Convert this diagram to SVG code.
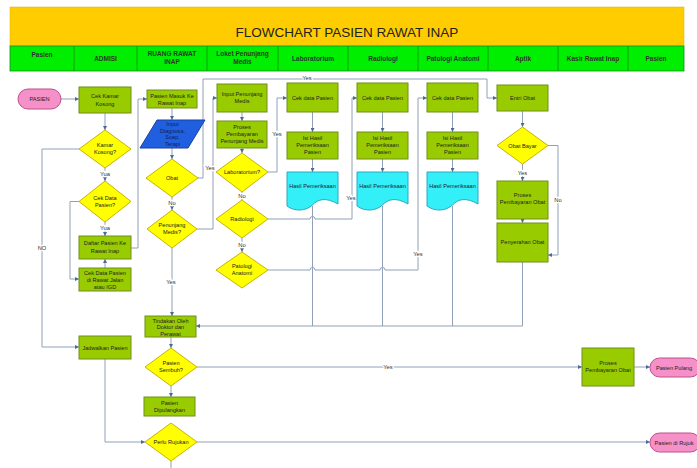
<svg xmlns="http://www.w3.org/2000/svg" width="697" height="468" viewBox="0 0 697 468">
<style>
text{font-family:"Liberation Sans",Arial,sans-serif;text-anchor:middle;}
.t{font-size:5.6px;fill:#222;}
.h{font-size:6.5px;font-weight:bold;fill:#2a3a2a;}
.lbl{font-size:5.8px;fill:#333;stroke:#fff;stroke-width:2.5px;paint-order:stroke;}
.box{fill:#99cc00;stroke:#6f8f1a;stroke-width:1;}
.dia{fill:#ffff00;stroke:#c8b400;stroke-width:1;}
.term{fill:#f590c8;stroke:#c0508a;stroke-width:1;}
.doc{fill:#33f0f8;stroke:#2aa8c0;stroke-width:1;}
.io{fill:#2060e0;stroke:#1840a0;stroke-width:1;}
.c{fill:none;stroke:#8fa0b8;stroke-width:1;}
.a{marker-end:url(#ah);}
</style>
<defs>
<marker id="ah" viewBox="0 0 6 6" refX="6" refY="3" markerWidth="4" markerHeight="4" orient="auto" markerUnits="userSpaceOnUse"><path d="M0,0 L6,3 L0,6 Z" fill="#4a6a9a"/></marker>
</defs>
<rect width="697" height="468" fill="#fff"/>
<g id="title">
<rect x="10" y="7" width="674" height="39" fill="#ffcc00" stroke="#e0b000" stroke-width="0.5"/>
<text x="347" y="37" style="font-size:13.5px;fill:#222;">FLOWCHART PASIEN RAWAT INAP</text>
</g>
<g id="lanes">
<rect x="10" y="46" width="674" height="25" fill="#00ee00" stroke="#1a8a1a" stroke-width="0.8"/>
<g stroke="#1a8a1a" stroke-width="0.8">
<line x1="74" y1="46" x2="74" y2="71"/><line x1="137" y1="46" x2="137" y2="71"/><line x1="207" y1="46" x2="207" y2="71"/><line x1="278" y1="46" x2="278" y2="71"/><line x1="348" y1="46" x2="348" y2="71"/><line x1="418" y1="46" x2="418" y2="71"/><line x1="488" y1="46" x2="488" y2="71"/><line x1="558" y1="46" x2="558" y2="71"/><line x1="628" y1="46" x2="628" y2="71"/>
</g>
<text class="h" x="42" y="57">Pasien</text>
<text class="h" x="105.5" y="61">ADMISI</text>
<text class="h" x="172" y="56">RUANG RAWAT</text><text class="h" x="172" y="64">INAP</text>
<text class="h" x="242.5" y="56">Loket Penunjang</text><text class="h" x="242.5" y="64">Medis</text>
<text class="h" x="313" y="61">Laboratorium</text>
<text class="h" x="383" y="61">Radiologi</text>
<text class="h" x="453" y="61">Patologi Anatomi</text>
<text class="h" x="523" y="61">Aptik</text>
<text class="h" x="593" y="61">Kasir Rawat Inap</text>
<text class="h" x="656" y="61">Pasien</text>
</g>
<g id="connectors">
<path class="c a" d="M61,99 H79"/>
<path class="c a" d="M105,113 V130"/>
<path class="c a" d="M105,168 V181"/>
<path class="c a" d="M105,222 V236"/>
<path class="c a" d="M79,201.5 H70 V279 H79"/>
<path class="c a" d="M105,268 V259"/>
<path class="c a" d="M79,149 H42 V347 H79"/>
<path class="c a" d="M131,248 H138 V99 H147"/>
<path class="c a" d="M172,108 V120"/>
<path class="c a" d="M172,148 V159"/>
<path class="c a" d="M172,197 V210"/>
<path class="c a" d="M198,178 H203 V79 H487 V98 H497"/>
<path class="c a" d="M197,229 H213 V98 H217"/>
<path class="c a" d="M172,248 V316"/>
<path class="c a" d="M242,112 V121"/>
<path class="c a" d="M242,148 V153"/>
<path class="c a" d="M242,192 V200"/>
<path class="c a" d="M242,238 V252"/>
<path class="c a" d="M268,172 H277 V98 H287"/>
<path class="c a" d="M268,219 H310 a2.5,2.5 0 0 1 5,0 H352 V98 H357"/>
<path class="c a" d="M268,270 H310 a2.5,2.5 0 0 1 5,0 H380 a2.5,2.5 0 0 1 5,0 H418 V98 H427"/>
<path class="c a" d="M312.5,112 V132"/><path class="c a" d="M312.5,159 V172"/>
<path class="c a" d="M382.5,112 V132"/><path class="c a" d="M382.5,159 V172"/>
<path class="c a" d="M452.5,112 V132"/><path class="c a" d="M452.5,159 V172"/>
<path class="c" d="M312.5,206 V326"/><path class="c" d="M382.5,206 V326"/><path class="c" d="M452.5,206 V326"/>
<path class="c a" d="M522.5,262 V326 H196"/>
<path class="c a" d="M522.5,111 V127"/>
<path class="c a" d="M522.5,164 V181"/>
<path class="c a" d="M522.5,219 V223"/>
<path class="c a" d="M548,145.5 H558 V255 H548"/>
<path class="c a" d="M171,337 V348"/>
<path class="c a" d="M197,367 H582"/>
<path class="c a" d="M634,367 H650"/>
<path class="c a" d="M171,386 V397"/>
<path class="c a" d="M105,359 V442 H145"/>
<path class="c a" d="M197,442 H650"/>
<path class="c" d="M171,461 V468"/>
<text class="lbl" x="105" y="176">Yua</text>
<text class="lbl" x="105" y="230">Yua</text>
<text class="lbl" x="42" y="250">NO</text>
<text class="lbl" x="172" y="205">No</text>
<text class="lbl" x="307" y="80">Yes</text>
<text class="lbl" x="210" y="170">Yes</text>
<text class="lbl" x="171" y="284">Yes</text>
<text class="lbl" x="242" y="198">No</text>
<text class="lbl" x="242" y="247">No</text>
<text class="lbl" x="277" y="136">Yes</text>
<text class="lbl" x="351" y="200">Yes</text>
<text class="lbl" x="418" y="256">Yes</text>
<text class="lbl" x="522.5" y="175">Yes</text>
<text class="lbl" x="558" y="202">No</text>
<text class="lbl" x="388" y="369">Yes</text>
</g>
<g id="n-pasien"><rect class="term" x="18" y="89" width="43" height="20" rx="10"/><text class="t" x="39.5" y="101">PASIEN</text></g>
<g id="n-cekkamar"><rect class="box" x="79" y="87" width="52" height="26"/><text class="t" x="105" y="98">Cek Kamar</text><text class="t" x="105" y="105.5">Kosong</text></g>
<g id="n-kamarkosong"><polygon class="dia" points="105,130 131,149 105,168 79,149"/><text class="t" x="105" y="147">Kamar</text><text class="t" x="105" y="154">Kosong?</text></g>
<g id="n-cekdata"><polygon class="dia" points="105,181 131,201.5 105,222 79,201.5"/><text class="t" x="105" y="199.5">Cek Data</text><text class="t" x="105" y="206.5">Pasien?</text></g>
<g id="n-daftar"><rect class="box" x="79" y="236" width="52" height="23"/><text class="t" x="105" y="245">Daftar Pasien Ke</text><text class="t" x="105" y="252.5">Rawat Inap</text></g>
<g id="n-cekrj"><rect class="box" x="79" y="268" width="52" height="23"/><text class="t" x="105" y="275">Cek Data Pasien</text><text class="t" x="105" y="282">di Rawat Jalan</text><text class="t" x="105" y="289">atau IGD</text></g>
<g id="n-jadwal"><rect class="box" x="79" y="336" width="52" height="23"/><text class="t" x="105" y="349.5">Jadwalkan Pasien</text></g>
<g id="n-masuk"><rect class="box" x="147" y="90" width="50" height="18"/><text class="t" x="172" y="97.5">Pasien Masuk Ke</text><text class="t" x="172" y="104.5">Rawat Inap</text></g>
<g id="n-input"><polygon class="io" points="157,120 205,120 188,148 140,148"/><text class="t" x="172.5" y="126" style="fill:#102050">Input</text><text class="t" x="172.5" y="132.5" style="fill:#102050">Diagnosa,</text><text class="t" x="172.5" y="139" style="fill:#102050">Soap,</text><text class="t" x="172.5" y="145.5" style="fill:#102050">Terapi</text></g>
<g id="n-obat"><polygon class="dia" points="172,159 198,178 172,197 146,178"/><text class="t" x="172" y="180">Obat</text></g>
<g id="n-penunjang"><polygon class="dia" points="172,210 197,229 172,248 147,229"/><text class="t" x="172" y="227">Penunjang</text><text class="t" x="172" y="234">Medis?</text></g>
<g id="n-tindakan"><rect class="box" x="145" y="316" width="51" height="21"/><text class="t" x="170.5" y="322.5">Tindakan Oleh</text><text class="t" x="170.5" y="329">Doktor dan</text><text class="t" x="170.5" y="335.5">Perawat</text></g>
<g id="n-sembuh"><polygon class="dia" points="171,348 197,367 171,386 145,367"/><text class="t" x="171" y="365">Pasien</text><text class="t" x="171" y="372">Sembuh?</text></g>
<g id="n-dipulangkan"><rect class="box" x="144" y="397" width="51" height="19"/><text class="t" x="169.5" y="405">Pasien</text><text class="t" x="169.5" y="412">Dipulangkan</text></g>
<g id="n-rujukan"><polygon class="dia" points="171,423 197,442 171,461 145,442"/><text class="t" x="171" y="444">Perlu Rujukan</text></g>
<g id="n-inputpm"><rect class="box" x="217" y="84" width="50" height="28"/><text class="t" x="242" y="96">Input Penunjang</text><text class="t" x="242" y="103">Medis</text></g>
<g id="n-bayarpm"><rect class="box" x="217" y="121" width="50" height="27"/><text class="t" x="242" y="128.5">Proses</text><text class="t" x="242" y="135.5">Pembayaran</text><text class="t" x="242" y="142.5">Penunjang Medis</text></g>
<g id="n-labq"><polygon class="dia" points="242,153 268,172 242,192 216,172"/><text class="t" x="242" y="174">Laboratorium?</text></g>
<g id="n-radq"><polygon class="dia" points="242,200 268,219 242,238 216,219"/><text class="t" x="242" y="221">Radiologi</text></g>
<g id="n-patq"><polygon class="dia" points="242,252 268,270 242,288 216,270"/><text class="t" x="242" y="268">Patologi</text><text class="t" x="242" y="275">Anatomi</text></g>
<g id="n-lab-cek"><rect class="box" x="287" y="83" width="51" height="29"/><text class="t" x="312.5" y="99.5">Cek data Pasien</text></g>
<g id="n-lab-isi"><rect class="box" x="287" y="132" width="51" height="27"/><text class="t" x="312.5" y="140">Isi Hasil</text><text class="t" x="312.5" y="147">Pemeriksaan</text><text class="t" x="312.5" y="154">Pasien</text></g>
<g id="n-lab-hasil"><path class="doc" d="M287,172 H338 V204 C326,197 318,199 312.5,205 C306,211 295,212 287,206 Z"/><text class="t" x="312.5" y="188">Hasil Pemeriksaan</text></g>
<g id="n-rad-cek"><rect class="box" x="357" y="83" width="51" height="29"/><text class="t" x="382.5" y="99.5">Cek data Pasien</text></g>
<g id="n-rad-isi"><rect class="box" x="357" y="132" width="51" height="27"/><text class="t" x="382.5" y="140">Isi Hasil</text><text class="t" x="382.5" y="147">Pemeriksaan</text><text class="t" x="382.5" y="154">Pasien</text></g>
<g id="n-rad-hasil"><path class="doc" d="M357,172 H408 V204 C396,197 388,199 382.5,205 C376,211 365,212 357,206 Z"/><text class="t" x="382.5" y="188">Hasil Pemeriksaan</text></g>
<g id="n-pat-cek"><rect class="box" x="427" y="83" width="51" height="29"/><text class="t" x="452.5" y="99.5">Cek data Pasien</text></g>
<g id="n-pat-isi"><rect class="box" x="427" y="132" width="51" height="27"/><text class="t" x="452.5" y="140">Isi Hasil</text><text class="t" x="452.5" y="147">Pemeriksaan</text><text class="t" x="452.5" y="154">Pasien</text></g>
<g id="n-pat-hasil"><path class="doc" d="M427,172 H478 V204 C466,197 458,199 452.5,205 C446,211 435,212 427,206 Z"/><text class="t" x="452.5" y="188">Hasil Pemeriksaan</text></g>
<g id="n-entri"><rect class="box" x="497" y="85" width="51" height="26"/><text class="t" x="522.5" y="100">Entri Obat</text></g>
<g id="n-obatbayar"><polygon class="dia" points="522.5,127 548,145.5 522.5,164 497,145.5"/><text class="t" x="522.5" y="147.5">Obat Bayar</text></g>
<g id="n-bayarobat"><rect class="box" x="497" y="181" width="51" height="38"/><text class="t" x="522.5" y="197">Proses</text><text class="t" x="522.5" y="204">Pembayaran Obat</text></g>
<g id="n-serah"><rect class="box" x="497" y="223" width="51" height="39"/><text class="t" x="522.5" y="244">Penyerahan Obat</text></g>
<g id="n-kasir"><rect class="box" x="582" y="348" width="52" height="38"/><text class="t" x="608" y="365">Proses</text><text class="t" x="608" y="372">Pembayaran Obat</text></g>
<g id="n-pulang"><rect class="term" x="650" y="358" width="50" height="19" rx="9.5"/><text class="t" x="674" y="369.5">Pasien Pulang</text></g>
<g id="n-dirujuk"><rect class="term" x="650" y="433" width="50" height="19" rx="9.5"/><text class="t" x="674" y="444.5">Pasien di Rujuk</text></g>
</svg>
